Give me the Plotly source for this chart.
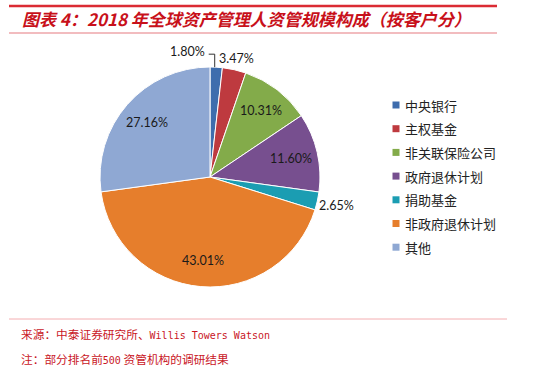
import math
import plotly.graph_objects as go

categories = ["中央银行", "主权基金", "非关联保险公司", "政府退休计划", "捐助基金", "非政府退休计划", "其他"]
values = [1.80, 3.47, 10.31, 11.60, 2.65, 43.01, 27.16]
colors = ["#3E6DAD", "#BE3A3F", "#83AB4A", "#774F8F", "#1B9DB2", "#E67E2C", "#8FA8D3"]
title = "图表 4：2018 年全球资产管理人资管规模构成（按客户分）"
source_cn = "来源：中泰证券研究所、"
source_en = "Willis Towers Watson"
note_a = "注：部分排名前"
note_num = "500"
note_b = " 资管机构的调研结果"

# label placement style (radius factor relative to pie radius); "leader" => elbow leader-line label
label_style = ["leader", 1.10, 0.76, 0.76, 1.18, 0.76, 0.76]

W, H = 550, 378
cx, cy, r = 210, 177, 110

fig = go.Figure(go.Pie(
    labels=categories,
    values=values,
    sort=False,
    direction="clockwise",
    rotation=0,
    marker=dict(colors=colors, line=dict(color="white", width=1)),
    textinfo="none",
    hoverinfo="label+percent",
    domain=dict(x=[(cx - r) / W, (cx + r) / W], y=[1 - (cy + r) / H, 1 - (cy - r) / H]),
    showlegend=False,
))


def px2paper(x, y):
    return x / W, 1 - y / H


annotations = []
shapes = []
total = sum(values)
cum = 0.0
lab_font = dict(family="Lato, Open Sans, sans-serif", size=12.5, color="#1a1a1a")
for v, st in zip(values, label_style):
    mid = (cum + v / 2) / total * 2 * math.pi
    cum += v
    sx, sy = math.sin(mid), -math.cos(mid)
    txt = f"{v:.2f}%"
    if st == "leader":
        ex, ey = cx + r * sx, cy + r * sy
        pts = [px2paper(ex - 1.5, ey), px2paper(ex - 1.5, ey - 13), px2paper(ex - 7.5, ey - 13)]
        path = "M {} {} L {} {} L {} {}".format(*[c for p in pts for c in p])
        shapes.append(dict(type="path", xref="paper", yref="paper", path=path,
                           line=dict(color="#333333", width=1)))
        ax, ay = px2paper(ex - 9, ey - 16)
        annotations.append(dict(text=txt, x=ax, y=ay, xref="paper", yref="paper",
                                xanchor="right", yanchor="middle", showarrow=False, font=lab_font))
    else:
        ax, ay = px2paper(cx + st * r * sx, cy + st * r * sy)
        annotations.append(dict(text=txt, x=ax, y=ay, xref="paper", yref="paper",
                                xanchor="center", yanchor="middle", showarrow=False, font=lab_font))

# legend (drawn from categories / colors)
leg_x, leg_y0, leg_dy = 396, 105, 23.7
for i, (c, col) in enumerate(zip(categories, colors)):
    yy = leg_y0 + i * leg_dy
    x0, y0 = px2paper(leg_x - 3.5, yy - 3.5)
    x1, y1 = px2paper(leg_x + 3.5, yy + 3.5)
    shapes.append(dict(type="rect", xref="paper", yref="paper", x0=x0, x1=x1, y0=y0, y1=y1,
                       fillcolor=col, line=dict(width=0)))
    tx, ty = px2paper(leg_x + 6.5, yy)
    annotations.append(dict(text=c, x=tx, y=ty, xref="paper", yref="paper",
                            xanchor="left", yanchor="middle", showarrow=False,
                            font=dict(family="Noto Sans CJK SC", size=13, color="#222222")))

red = "#C9161F"
foot_cn = "font-family:'Noto Sans CJK SC';font-size:11.7px"
foot_en = "font-family:'DejaVu Sans Mono';font-size:10px"
annotations += [
    dict(text="<b><i>" + title + "</i></b>", x=20 / W, y=1 - 19 / H, xref="paper", yref="paper",
         xanchor="left", yanchor="middle", showarrow=False,
         font=dict(family="Noto Sans CJK SC", size=17, color="#C8101A")),
    dict(text=f"<span style=\"{foot_cn}\">{source_cn}</span><span style=\"{foot_en}\">{source_en}</span>",
         x=19 / W, y=1 - 333 / H, xref="paper", yref="paper",
         xanchor="left", yanchor="middle", showarrow=False,
         font=dict(family="Noto Sans CJK SC", size=12, color=red)),
    dict(text=f"<span style=\"{foot_cn}\">{note_a}</span><span style=\"{foot_en}\">{note_num}</span>"
              f"<span style=\"{foot_cn}\">{note_b}</span>",
         x=19 / W, y=1 - 358 / H, xref="paper", yref="paper",
         xanchor="left", yanchor="middle", showarrow=False,
         font=dict(family="Noto Sans CJK SC", size=12, color=red)),
]

shapes += [
    dict(type="line", xref="paper", yref="paper", x0=9 / W, x1=497 / W, y0=1 - 6 / H, y1=1 - 6 / H,
         line=dict(color="#DB2B33", width=2.5)),
    dict(type="line", xref="paper", yref="paper", x0=9 / W, x1=497 / W, y0=1 - 33 / H, y1=1 - 33 / H,
         line=dict(color="#E57B80", width=1.2)),
    dict(type="line", xref="paper", yref="paper", x0=9 / W, x1=507 / W, y0=1 - 319 / H, y1=1 - 319 / H,
         line=dict(color="#F4AEB1", width=1)),
]

fig.update_layout(
    width=W, height=H,
    margin=dict(l=0, r=0, t=0, b=0),
    paper_bgcolor="white",
    plot_bgcolor="white",
    showlegend=False,
    shapes=shapes,
    annotations=annotations,
)

fig.write_html(
    "out.html",
    config={"displayModeBar": False},
    post_script="document.body.style.margin='0';document.body.style.overflow='hidden';",
)
